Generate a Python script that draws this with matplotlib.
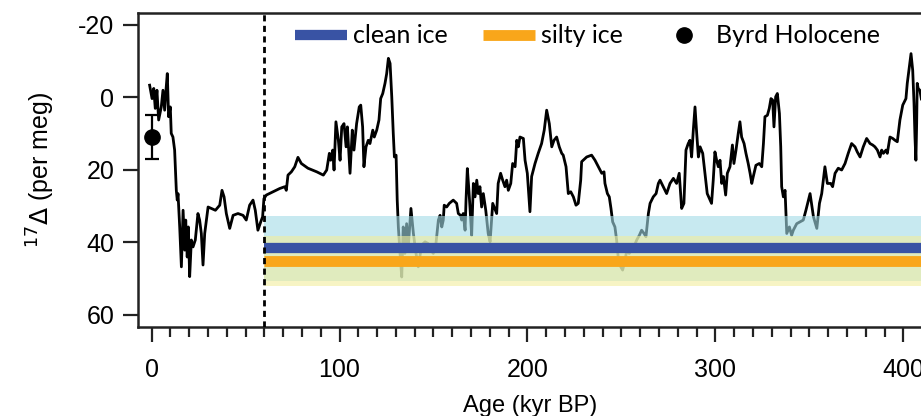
import matplotlib
matplotlib.use("Agg")
import matplotlib.pyplot as plt
from matplotlib.ticker import MultipleLocator
from matplotlib.lines import Line2D

plt.rcParams['font.family'] = ['Liberation Sans', 'DejaVu Sans']
plt.rcParams['axes.unicode_minus'] = False

# 17-Delta record, age in kyr BP
age = [-1.0, 0.3, 1.2, 2.0, 2.9, 3.8, 5.2, 6.1, 7.0, 7.7, 8.4, 9.1, 10.0, 10.5, 11.4, 12.3,
       13.2, 13.7, 14.1, 15.0, 15.9, 16.8, 17.7, 18.2, 19.0, 19.6, 20.3, 21.2, 22.1, 23.3,
       24.7, 25.6, 26.5, 27.4, 28.3, 30.1, 31.8, 34.0, 36.3, 37.5, 38.6, 39.8, 41.6, 43.4,
       46.0, 48.7, 50.4, 52.2, 54.0, 55.2, 56.6, 58.1, 59.1, 59.8, 61.1, 64.6, 68.2, 70.9,
       71.7, 72.6, 74.4, 76.2, 77.9, 79.7, 83.2,
       87.9, 91.4, 93.2, 94.6, 95.3, 96.4, 97.1, 98.1, 99.4, 100.3, 101.2, 102.4, 103.5,
       104.2, 105.6, 106.8, 107.7, 109.1, 110.5, 111.3, 112.3, 113.0, 114.1, 115.3, 116.2,
       117.7, 118.5, 119.8, 121.0, 121.9, 123.0, 124.2, 125.1, 126.0, 126.9, 127.8, 128.6,
       129.2, 130.1, 130.7, 131.3, 132.2, 133.1, 133.9, 134.8, 135.7, 136.6, 138.0, 139.3,
       140.7, 141.9, 143.7, 145.5, 147.2, 148.5, 149.9, 151.3, 152.6, 153.5, 154.4, 155.2,
       155.7, 157.0, 158.4, 160.5, 162.3, 163.2, 164.4, 165.0, 165.8, 166.8, 167.3, 168.0,
       168.7, 169.4, 170.3, 171.2, 172.1, 173.0, 173.8, 174.7, 175.6, 176.5, 177.8, 179.1,
       180.1,
       181.5, 183.6, 184.4, 185.7, 186.8, 188.0, 188.9, 189.8, 191.1, 192.1, 193.4, 194.3,
       195.1, 196.0, 197.8, 198.7, 199.9, 201.3, 202.2, 204.0, 205.7, 207.5, 208.9, 210.2,
       211.6, 212.9, 214.1, 215.5, 216.9, 218.2, 219.0, 220.5, 221.7, 223.0, 224.4, 225.8,
       227.0, 228.3, 228.8, 231.5, 234.1, 235.9, 237.7, 239.5, 240.7, 241.2, 242.5, 243.5,
       244.4, 245.3, 246.5, 247.4, 248.3, 249.6, 250.6, 251.9, 252.8, 254.1, 255.4, 256.6,
       258.1, 259.5, 260.7, 262.0, 263.0, 264.3, 265.2, 266.9, 268.4, 269.6, 270.5,
       272.2, 274.0, 275.8, 277.6, 279.3, 280.7, 282.0, 283.2, 284.3, 285.5, 286.4, 287.3,
       288.2, 289.1, 290.0, 290.9, 291.8, 293.2, 294.4, 295.6, 297.1, 297.9, 298.8, 299.7,
       300.6, 301.5, 302.4, 303.3, 304.2, 305.4, 306.3, 307.7, 309.0, 309.8, 310.9, 312.1,
       313.0, 313.9, 315.2, 316.2, 317.4, 318.4, 319.3, 320.1, 321.5, 323.3, 324.6, 325.5,
       326.3, 327.6, 328.6, 329.5, 330.4, 331.1, 332.0, 332.9, 334.0, 334.7, 335.2, 336.1,
       337.0, 337.9, 339.3, 340.5, 341.4, 343.2, 345.0, 346.7,
       348.1, 350.3, 352.1, 353.9, 355.3, 356.5, 358.2, 359.5, 361.3, 362.3, 363.6, 365.3,
       367.1, 368.9, 370.6, 372.4, 374.2, 375.4, 376.9, 378.6, 380.4, 382.2, 383.6, 384.8,
       386.1, 387.5, 388.4, 389.3, 390.7, 391.4, 392.8, 394.3, 395.5, 396.7, 398.1, 399.6,
       401.3, 402.0, 403.1, 404.0, 404.9, 405.6, 406.1, 406.6, 407.0, 407.3, 407.8, 408.7,
       409.5]
d17 = [-3.3, 0.4, -2.4, 3.1, -1.9, 6.3, 2.7, -1.9, 3.6, -1.9, -6.5, 5.4, 2.7, 10, 11, 14.6,
       25.7, 28.4, 26.6, 35.8, 46.8, 31.2, 42.2, 33.9, 44.1, 35.8, 49.5, 39.4, 41.3, 39.4,
       32.1, 33.9, 37.6, 46.3, 37.6, 30.3, 30.7, 31.2, 29.8, 25.7, 27.5, 32.1, 36.2, 32.6,
       32.1, 32.6, 33.9, 29.8, 28.4, 31.2, 36.7, 34.4, 33.0, 28.0, 27.0, 26.1, 25.2, 24.7,
       25.7, 21.5, 20.6, 19.2, 16.6, 18.3, 19.6,
       20.6, 21.5, 20.1, 15.5, 17.4, 14.6, 20.1, 6.8, 11.9, 17.4, 8.2, 7.3, 13.7,
       8.2, 21.0, 9.1, 14.6, 7.3, 2.7, 2.2, 8.2, 19.2, 13.7, 11.9, 12.8,
       9.1, 11.0, 9.1, 6.3, 0.4, -1.0, -3.8, -6.5, -10.7, -9.3, -0.1, 10.0,
       16.5, 16.0, 28.4, 35.8, 43.1, 49.6, 35.8, 43.1, 34.9, 41.3, 30.7, 37.6,
       43.1, 46.8, 40.8, 39.9, 40.4, 42.2, 43.1, 40.4, 33.9, 32.6, 35.8, 33.9,
       29.8, 30.3, 29.3, 28.4, 29.3, 32.1, 32.6, 33.9, 32.1, 36.7, 28.4, 19.7,
       24.7, 30.3, 38.1, 23.8, 27.5, 22.9, 26.6, 24.7, 30.3, 26.6, 31.2, 37.6,
       39.9,
       29.3, 32.1, 23.8, 21.0, 22.9, 24.7, 22.9, 25.7, 23.8, 18.3, 19.2, 11.9,
       13.7, 11.0, 11.4, 17.4, 21.0, 31.6, 21.9, 18.3, 15.5, 12.8, 9.1, 3.6,
       7.3, 13.7, 11.9, 11.0, 13.7, 15.5, 16.0, 19.2, 26.6, 26.1, 27.5, 29.8,
       29.3, 22.9, 17.8, 16.5, 16.0, 17.4, 19.2, 21.0, 20.6, 23.8, 26.6, 27.5,
       30.7, 34.4, 35.8, 39.4, 44.5, 46.8, 47.7, 45.0, 42.2, 43.1, 42.2, 41.3,
       39.4, 38.1, 36.7, 37.6, 38.5, 32.1, 29.3, 27.5, 26.6, 23.8, 22.9,
       24.7, 26.6, 23.8, 22.4, 23.8, 21.0, 30.7, 29.3, 14.6, 12.8, 11.9, 16.5,
       9.1, 2.7, 10.0, 16.5, 13.7, 15.5, 21.0, 26.6, 28.4, 29.3, 22.9, 15.1,
       17.4, 19.2, 17.4, 23.8, 21.9, 27.0, 21.0, 19.2, 13.2, 18.3, 14.6, 10.0,
       6.8, 11.0, 12.8, 15.5, 18.3, 21.0, 23.8, 21.9, 18.8, 18.3, 19.2, 12.8,
       5.4, 5.0, 3.1, 0.4, 0.8, 8.2, -0.1, -1.0, 4.5, 13.7, 24.7, 27.5,
       25.7, 37.6, 35.8, 38.1, 36.7, 34.9, 34.4, 33.9,
       31.2, 26.6, 33.0, 36.2, 29.3, 26.6, 19.2, 23.8, 23.8, 24.7, 21.0, 19.6,
       20.1, 18.3, 15.5, 12.8, 13.7, 15.1, 16.5, 13.7, 11.4, 12.8, 13.2, 13.7,
       14.6, 16.5, 14.6, 15.5, 14.6, 15.5, 11.0, 11.4, 11.9, 12.3, 6.3, 2.2,
       0.4, -3.8, -8.4, -12.0, -7.4, 1.7, 11.0, 17.4, 7.3, -3.8, -2.4, -1.9,
       0.5]

# Byrd Holocene value
byrd_age = [0.0]
byrd_val = [11.0]
byrd_err = [6.0]

# ice types: mean and spread
clean_mean, clean_sd = 41.7, 8.9
silty_mean, silty_sd = 45.2, 6.8
ice_start = 60
age_max = 412

fig = plt.figure(figsize=(9.21, 4.16), dpi=100)
ax = fig.add_axes([0.1498, 0.2139, 0.8512, 0.7548])

ax.plot(age, d17, color='black', lw=2.0, zorder=2, solid_joinstyle='round')

# bands on top of the record, semi-transparent
ax.fill_between([ice_start, age_max], clean_mean - clean_sd, clean_mean + clean_sd,
                color=(0.64, 0.857, 0.902), alpha=0.6, lw=0, zorder=3)
ax.fill_between([ice_start, age_max], silty_mean - silty_sd, silty_mean + silty_sd,
                color=(0.948, 0.935, 0.615), alpha=0.6, lw=0, zorder=3)
ax.hlines(clean_mean, ice_start, age_max, color='#3953a4', lw=7.4, zorder=4,
          capstyle='butt')
ax.hlines(silty_mean, ice_start, age_max, color='#f9a61a', lw=7.8, zorder=4,
          capstyle='butt')

ax.axvline(ice_start, color='black', lw=2, ls=(0, (2.2, 1.6)), zorder=5)

ax.errorbar(byrd_age, byrd_val, yerr=byrd_err, fmt='o', color='black', ms=11,
            capsize=5, elinewidth=1.6, capthick=1.6, zorder=6)

ax.set_xlim(-7.2, 409.8)
ax.set_ylim(63.4, -23.2)
ax.xaxis.set_major_locator(MultipleLocator(100))
ax.xaxis.set_minor_locator(MultipleLocator(10))
ax.yaxis.set_major_locator(MultipleLocator(20))

for s in ax.spines.values():
    s.set_linewidth(1.8)
    s.set_color('#222222')
ax.tick_params(axis='both', which='major', direction='out', width=1.6, labelsize=18,
               color='#222222')
ax.tick_params(axis='x', which='major', length=11, pad=11)
ax.tick_params(axis='x', which='minor', direction='out', length=7, width=1.6,
               color='#222222')
ax.tick_params(axis='y', which='major', length=11, pad=6)

ax.set_xlabel('Age (kyr BP)', fontsize=17, labelpad=10)
ax.set_ylabel(r'$^{17}\Delta$ (per meg)', fontsize=18, labelpad=15)

handles = [Line2D([], [], color='#3953a4', lw=7.4, solid_capstyle='butt'),
           Line2D([], [], color='#f9a61a', lw=7.8, solid_capstyle='butt'),
           Line2D([], [], color='black', marker='o', ms=11, ls='none')]
ax.legend(handles, ['clean ice', 'silty ice', 'Byrd Holocene'], ncol=3, frameon=False,
          loc='center left', bbox_to_anchor=(0.2003, 0.927), borderaxespad=0, borderpad=0,
          handlelength=2.1, handletextpad=0.22, columnspacing=1.4,
          prop={'family': 'Lato', 'size': 18})

fig.savefig('out.png', dpi=100)
